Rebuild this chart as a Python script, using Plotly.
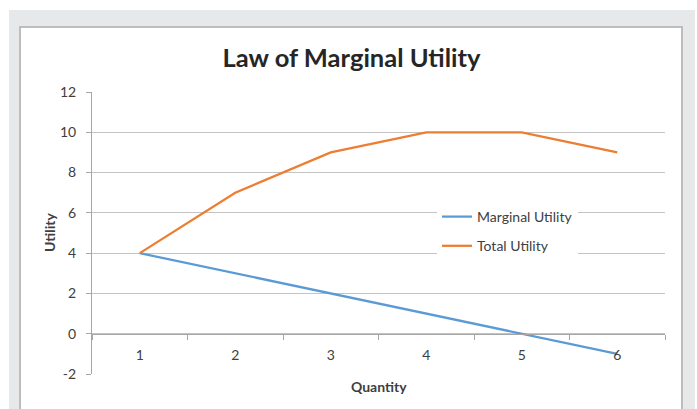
import plotly.graph_objects as go

# ---- data ----
quantity = ["1", "2", "3", "4", "5", "6"]
marginal_utility = [4, 3, 2, 1, 0, -1]
total_utility = [4, 7, 9, 10, 10, 9]
y_ticks = [-2, 0, 2, 4, 6, 8, 10, 12]
y_tick_labels = ["-2", "0", "2", "4", "6", "8", "10", "12"]

W, H = 697, 409
L, R, T, B = 92, 665, 92, 374


def fx(px):
    return (px - L) / (R - L)


def fy(py):
    return (B - py) / (B - T)


FONT = "Lato"
TXT = "#404040"

fig = go.Figure()
fig.add_trace(go.Scatter(x=quantity, y=marginal_utility, mode="lines",
                         name="Marginal Utility", legendgroup="a",
                         line=dict(color="#5b9bd5", width=2.25)))
fig.add_trace(go.Scatter(x=quantity, y=total_utility, mode="lines",
                         name="Total Utility", legendgroup="b",
                         line=dict(color="#ed7d31", width=2.25)))

shapes = [
    dict(type="rect", xref="paper", yref="paper", layer="below",
         x0=fx(9), x1=fx(695), y0=fy(415), y1=fy(10),
         fillcolor="#e7e8e9", line=dict(width=0)),
    dict(type="rect", xref="paper", yref="paper", layer="below",
         x0=fx(20), x1=fx(682), y0=fy(420), y1=fy(27),
         fillcolor="white", line=dict(color="#bdbdbd", width=2)),
]

fig.update_layout(
    width=W, height=H,
    margin=dict(l=L, r=W - R, t=T, b=H - B, autoexpand=False),
    paper_bgcolor="white",
    plot_bgcolor="rgba(0,0,0,0)",
    shapes=shapes,
    font=dict(family=FONT, size=14, color=TXT),
    title=dict(text="<b>Law of Marginal Utility</b>", x=351.5 / W, xref="container",
               xanchor="center", y=1 - 58 / H, yref="container", yanchor="middle",
               font=dict(family=FONT, size=25.5, color="#262626")),
    xaxis=dict(type="category", range=[-0.5, 5.5], anchor="free", position=2 / 14,
               showline=True, linecolor="#a6a6a6", linewidth=1,
               ticks="outside", tickson="boundaries", ticklen=5, tickcolor="#a6a6a6",
               showgrid=False, tickfont=dict(size=14, color=TXT),
               ticklabelstandoff=8, fixedrange=True),
    yaxis=dict(range=[-2, 12], tickvals=y_ticks, ticktext=y_tick_labels,
               showgrid=True, gridcolor="#c4c4c4",
               gridwidth=1, zeroline=False, showline=True, linecolor="#a6a6a6",
               ticks="outside", ticklen=5, tickcolor="#a6a6a6",
               tickfont=dict(size=14, color=TXT), ticklabelstandoff=7),
    legend=dict(x=fx(437), y=fy(201), xanchor="left", yanchor="top",
                bgcolor="white", font=dict(size=14, color=TXT),
                tracegroupgap=8),
    annotations=[
        dict(text="<b>Quantity</b>", xref="paper", yref="paper", x=0.5, y=fy(386),
             xanchor="center", yanchor="middle", showarrow=False,
             font=dict(family=FONT, size=14, color=TXT)),
        dict(text="<b>Utility</b>", xref="paper", yref="paper", x=fx(49), y=fy(232),
             xanchor="center", yanchor="middle", showarrow=False, textangle=-90,
             font=dict(family=FONT, size=14, color=TXT)),
    ],
)

fig.write_html("out.html", config={"displayModeBar": False},
               post_script="document.body.style.margin='0';")
